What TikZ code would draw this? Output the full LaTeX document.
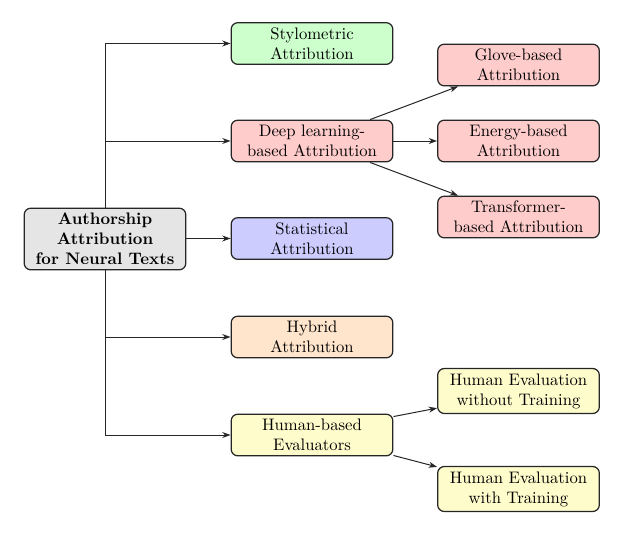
\documentclass[tikz,border=0pt]{standalone}
\usetikzlibrary{arrows.meta}
\begin{document}
\begin{tikzpicture}[x=0.6pt,y=-0.6pt,
  box/.style={draw=black!85, line width=0.75pt, rounded corners=4pt, align=center,
    minimum width=97pt, minimum height=25pt, inner sep=1.5pt, font=\normalsize},
  rootbox/.style={box, fill=gray!20, minimum height=37pt, font=\bfseries},
  conn/.style={draw=black!85, line width=0.6pt},
  arr/.style={conn, -{Stealth[length=5pt,width=3.6pt]}}
]
\useasboundingbox (0,0) rectangle (635,538);
\node[rootbox] (root) at (105,239) {Authorship\\Attribution\\for Neural Texts};
\node[box, fill=green!20] (sty) at (312,43.5) {Stylometric\\Attribution};
\node[box, fill=red!20] (deep) at (312,141) {Deep learning-\\based Attribution};
\node[box, fill=blue!20] (stat) at (312,238.5) {Statistical\\Attribution};
\node[box, fill=orange!20] (hyb) at (312,337) {Hybrid\\Attribution};
\node[box, fill=yellow!20] (hbe) at (312,435) {Human-based\\Evaluators};
\node[box, fill=red!20] (glove) at (518.5,65) {Glove-based\\Attribution};
\node[box, fill=red!20] (energy) at (518.5,141) {Energy-based\\Attribution};
\node[box, fill=red!20] (trans) at (518.5,217) {Transformer-\\based Attribution};
\node[box, fill=yellow!20, minimum height=27pt] (hw) at (518.5,391) {Human Evaluation\\without Training};
\node[box, fill=yellow!20, minimum height=27pt] (ht) at (518.5,489) {Human Evaluation\\with Training};
% trunk
\coordinate (tt) at (root.north |- sty.west);
\coordinate (tb) at (root.south |- hbe.west);
\draw[conn] (root.north) -- (tt);
\draw[conn] (root.south) -- (tb);
\draw[arr] (tt) -- (sty.west);
\draw[arr] (root.north |- deep.west) -- (deep.west);
\draw[arr] (root.east |- stat.west) -- (stat.west);
\draw[arr] (root.south |- hyb.west) -- (hyb.west);
\draw[arr] (tb) -- (hbe.west);
% deep learning children
\draw[arr] ([xshift=-14pt]deep.north east) -- ([xshift=12.6pt]glove.south west);
\draw[arr] (deep.east) -- (energy.west);
\draw[arr] ([xshift=-14pt]deep.south east) -- ([xshift=12.6pt]trans.north west);
% human children
\draw[arr] ([yshift=-1.8pt]hbe.north east) -- ([yshift=3.6pt]hw.south west);
\draw[arr] ([yshift=0.6pt]hbe.south east) -- ([yshift=-0.6pt]ht.north west);
\end{tikzpicture}
\end{document}
